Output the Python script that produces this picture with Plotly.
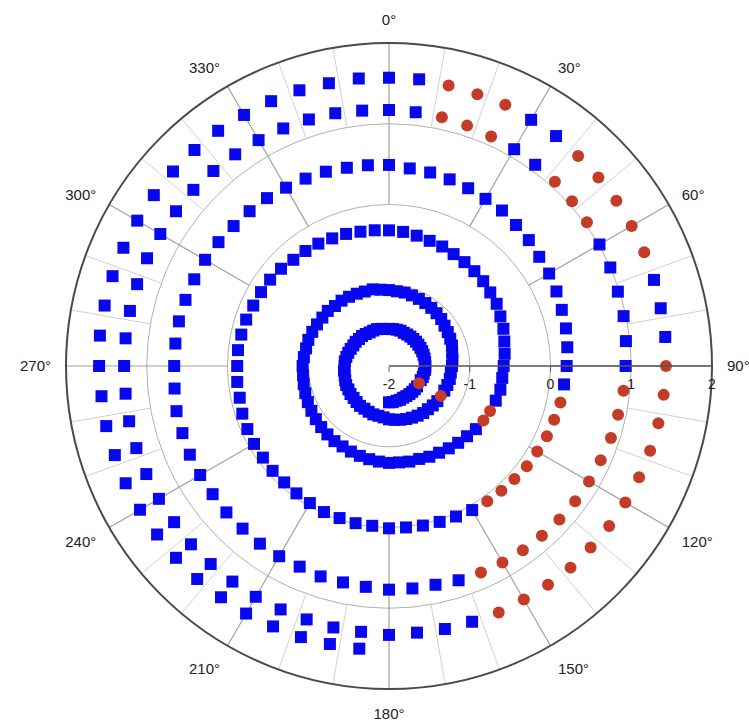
import plotly.graph_objects as go

# Angles (degrees, clockwise from north) visited by every turn of the spiral
THETA_TURN = [180, 174, 168, 162, 156, 150, 144, 138, 132, 126, 120, 114, 108, 102, 96,
              90, 84, 78, 72, 66, 60, 54, 48, 42, 36, 30, 24, 18, 12, 6,
              0, 354, 348, 342, 336, 330, 324, 318, 312, 306, 300, 294, 288, 282, 276,
              270, 264, 258, 252, 246, 240, 234, 228, 222, 216, 210, 204, 198, 192, 186]

# Radial values for each turn (innermost first)
R_TURN1 = [-1.55, -1.55, -1.56, -1.56, -1.57, -1.57, -1.57, -1.57, -1.57, -1.57, -1.57, -1.57, -1.56, -1.56, -1.55,
           -1.55, -1.55, -1.55, -1.55, -1.55, -1.55, -1.55, -1.55, -1.55, -1.55, -1.55, -1.55, -1.54, -1.54, -1.54,
           -1.54, -1.54, -1.53, -1.52, -1.52, -1.52, -1.51, -1.50, -1.50, -1.49, -1.49, -1.48, -1.47, -1.46, -1.45,
           -1.45, -1.44, -1.44, -1.43, -1.42, -1.42, -1.41, -1.41, -1.40, -1.39, -1.39, -1.38, -1.37, -1.37, -1.36]
R_TURN2 = [-1.34, -1.33, -1.32, -1.31, -1.30, -1.29, -1.28, -1.28, -1.27, -1.26, -1.26, -1.25, -1.24, -1.23, -1.23,
           -1.22, -1.21, -1.20, -1.18, -1.17, -1.16, -1.15, -1.13, -1.12, -1.11, -1.10, -1.09, -1.08, -1.07, -1.07,
           -1.06, -1.05, -1.03, -1.03, -1.02, -1.01, -1.00, -1.00, -0.98, -0.98, -0.97, -0.96, -0.95, -0.95, -0.94,
           -0.93, -0.93, -0.92, -0.91, -0.90, -0.89, -0.88, -0.87, -0.86, -0.85, -0.85, -0.84, -0.83, -0.82, -0.81]
R_TURN3 = [-0.80, -0.80, -0.79, -0.79, -0.77, -0.76, -0.74, -0.72, -0.70, -0.67, -0.65, -0.63, -0.61, -0.59, -0.59,
           -0.58, -0.56, -0.54, -0.51, -0.49, -0.46, -0.45, -0.43, -0.42, -0.41, -0.40, -0.38, -0.37, -0.35, -0.33,
           -0.32, -0.31, -0.30, -0.28, -0.27, -0.25, -0.24, -0.23, -0.20, -0.18, -0.17, -0.16, -0.14, -0.13, -0.12,
           -0.12, -0.11, -0.11, -0.09, -0.08, -0.07, -0.07, -0.06, -0.06, -0.05, -0.04, -0.02, -0.02, -0.01, -0.01]
R_TURN4 = [0.01, 0.01, 0.02, 0.03, 0.04, 0.06, 0.07, 0.08, 0.09, 0.11, 0.12, 0.14, 0.15, 0.17, 0.18,
           0.20, 0.22, 0.24, 0.25, 0.27, 0.29, 0.30, 0.33, 0.35, 0.38, 0.39, 0.41, 0.43, 0.45, 0.46,
           0.49, 0.50, 0.51, 0.53, 0.54, 0.55, 0.57, 0.58, 0.59, 0.61, 0.63, 0.64, 0.65, 0.66, 0.66,
           0.66, 0.67, 0.69, 0.69, 0.70, 0.70, 0.70, 0.71, 0.71, 0.72, 0.72, 0.72, 0.74, 0.74, 0.75]
R_TURN5 = [0.77, 0.77, 0.77, 0.79, 0.80, 0.81, 0.82, 0.83, 0.84, 0.85, 0.86, 0.87, 0.89, 0.90, 0.92,
           0.93, 0.95, 0.97, 0.98, 1.00, 1.01, 1.03, 1.05, 1.07, 1.08, 1.10, 1.11, 1.13, 1.15, 1.16,
           1.17, 1.18, 1.20, 1.21, 1.22, 1.23, 1.24, 1.25, 1.26, 1.26, 1.27, 1.28, 1.28, 1.28, 1.28,
           1.28, 1.28, 1.29, 1.29, 1.29, 1.29, 1.29, 1.30, 1.30, 1.30, 1.30, 1.30, 1.30, 1.31, 1.31]
R_TURN6 = [1.33, 1.32, 1.33, 1.33, 1.34, 1.34, 1.35, 1.36, 1.36, 1.37, 1.38, 1.39, 1.40, 1.41, 1.42,
           1.43, 1.44, 1.44, 1.45, 1.46, 1.47, 1.48, 1.49, 1.50, 1.52, 1.52, 1.54, 1.54, 1.55, 1.57,
           1.57, 1.58, 1.58, 1.59, 1.59, 1.59, 1.60, 1.60, 1.60, 1.60, 1.60, 1.60, 1.60, 1.60, 1.60,
           1.59, 1.58, 1.58, 1.57, 1.57, 1.56, 1.55, 1.55, 1.55, 1.54, 1.54, 1.53, 1.53, 1.52, 1.52]
R_TURNS = [R_TURN1, R_TURN2, R_TURN3, R_TURN4, R_TURN5, R_TURN6]

# Angles whose points are drawn as red circles, per turn
RED_TURN1 = [120]
RED_TURN2 = [120]
RED_TURN3 = [114, 120]
RED_TURN4 = [102, 108, 114, 120, 126, 132, 138, 144]
RED_TURN5 = [12, 18, 24, 42, 48, 54, 96, 102, 108, 114, 120, 126, 132, 138, 144, 150, 156]
RED_TURN6 = [12, 18, 24, 42, 48, 54, 60, 66, 90, 96, 102, 108, 114, 120, 126, 132, 138, 144, 150, 156]
RED_TURNS = [RED_TURN1, RED_TURN2, RED_TURN3, RED_TURN4, RED_TURN5, RED_TURN6]

RADIAL_TICKS = [-2, -1, 0, 1, 2]
ANGLE_TICKS = [0, 30, 60, 90, 120, 150, 180, 210, 240, 270, 300, 330]
ANGLE_LABELS = ["0°", "30°", "60°", "90°", "120°", "150°", "180°", "210°", "240°", "270°", "300°", "330°"]

blue_t, blue_r, red_t, red_r = [], [], [], []
for rs, reds in zip(R_TURNS, RED_TURNS):
    for th, rv in zip(THETA_TURN, rs):
        if th in reds:
            red_t.append(th); red_r.append(rv)
        else:
            blue_t.append(th); blue_r.append(rv)

fig = go.Figure()

# custom spokes: major every 30 deg from r=0, minor every 10 deg from r=1
maj_r, maj_t, min_r, min_t = [], [], [], []
for a in range(0, 360, 10):
    if a % 30 == 0:
        maj_r += [0, 2, None]; maj_t += [a, a, None]
    else:
        min_r += [1, 2, None]; min_t += [a, a, None]
fig.add_trace(go.Scatterpolar(r=min_r, theta=min_t, mode="lines",
                              line=dict(color="#d0d0d0", width=1), hoverinfo="skip"))
fig.add_trace(go.Scatterpolar(r=maj_r, theta=maj_t, mode="lines",
                              line=dict(color="#a0a0a0", width=1.2), hoverinfo="skip"))

fig.add_trace(go.Scatterpolar(r=blue_r, theta=blue_t, mode="markers",
                              marker=dict(symbol="square", size=12, color="#0808f0",
                                          line=dict(width=0))))
fig.add_trace(go.Scatterpolar(r=red_r, theta=red_t, mode="markers",
                              marker=dict(symbol="circle", size=12, color="#c43c26",
                                          line=dict(width=0))))

fig.update_layout(
    width=749, height=721,
    margin=dict(l=66, r=37, t=43, b=32),
    paper_bgcolor="white",
    showlegend=False,
    font=dict(family="Liberation Sans, Arial, sans-serif", color="#222"),
    polar=dict(
        bgcolor="white",
        radialaxis=dict(range=[-2, 2], tickvals=RADIAL_TICKS, ticktext=[str(v) for v in RADIAL_TICKS],
                        angle=0, side="clockwise", showline=True, linecolor="#555", linewidth=1.5,
                        ticks="outside", ticklen=5, tickcolor="#555",
                        showgrid=True, gridcolor="#b0b0b0", gridwidth=1,
                        tickfont=dict(size=14, color="#222")),
        angularaxis=dict(direction="clockwise", rotation=90, tickvals=ANGLE_TICKS, ticktext=ANGLE_LABELS,
                         showgrid=False, showline=True, linecolor="#4a4a4a", linewidth=2,
                         ticks="outside", ticklen=11, tickcolor="rgba(0,0,0,0)",
                         tickfont=dict(size=15, color="#222")),
    ),
)

fig.write_html("out.html")
